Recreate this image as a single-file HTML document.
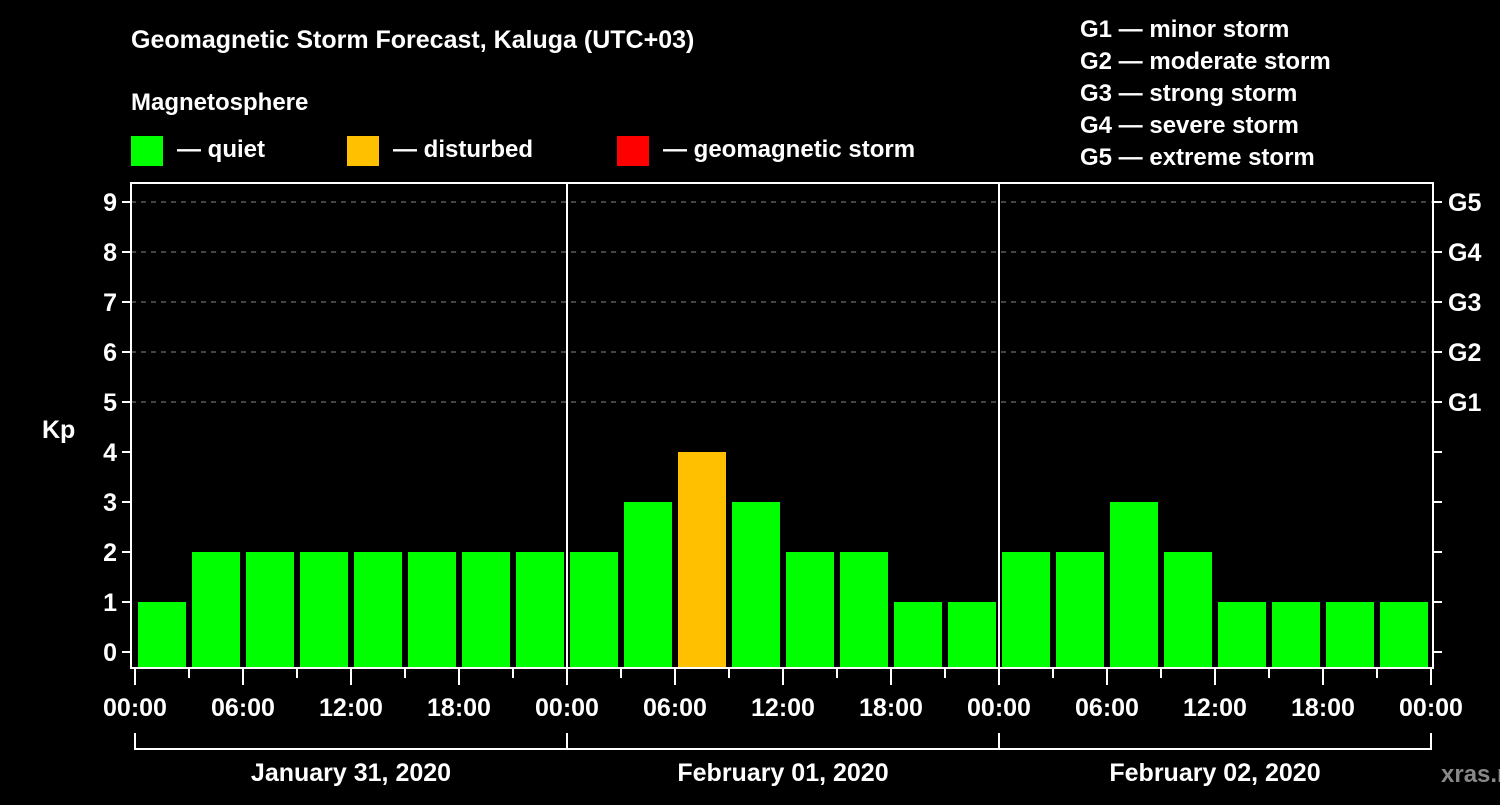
<!DOCTYPE html>
<html><head><meta charset="utf-8"><style>
body{margin:0;background:#000;width:1500px;height:800px;overflow:hidden}
svg text{font-family:"Liberation Sans",sans-serif;font-weight:bold;fill:#fff}
</style></head><body>
<svg id="c" width="1500" height="800" xmlns="http://www.w3.org/2000/svg">
<text x="131" y="48" font-size="25">Geomagnetic Storm Forecast, Kaluga (UTC+03)</text>
<text x="131" y="110" font-size="24">Magnetosphere</text>
<g><rect x="131" y="136" width="32" height="30" fill="#00ff00"/><text x="177" y="157" font-size="24">— quiet</text></g>
<g><rect x="347" y="136" width="32" height="30" fill="#ffc000"/><text x="393" y="157" font-size="24">— disturbed</text></g>
<g><rect x="617" y="136" width="32" height="30" fill="#ff0000"/><text x="663" y="157" font-size="24">— geomagnetic storm</text></g>
<g font-size="24">
<text x="1080" y="37">G1 — minor storm</text>
<text x="1080" y="69">G2 — moderate storm</text>
<text x="1080" y="101">G3 — strong storm</text>
<text x="1080" y="133">G4 — severe storm</text>
<text x="1080" y="165">G5 — extreme storm</text>
</g>
<text x="42" y="438" font-size="25">Kp</text>
<text x="1441" y="782" font-size="24" fill="#888" style="fill:#888">xras.ru</text>
<g id="grid"></g><g id="bars"></g><g id="axes"></g>
</svg>
<script>
const days=["January 31, 2020","February 01, 2020","February 02, 2020"];
const kpValues=[1,2,2,2,2,2,2,2, 2,3,4,3,2,2,1,1, 2,2,3,2,1,1,1,1];
const yTicks=[0,1,2,3,4,5,6,7,8,9];
const gLabels=["G1","G2","G3","G4","G5"];
const gLevels=[5,6,7,8,9];
const xTickLabels=["00:00","06:00","12:00","18:00"];
const NS="http://www.w3.org/2000/svg";
const X0=135,SLOT=54,Y0=652,UNIT=50,L=131,R=1433,T=183,B=668;
const x=i=>X0+i*SLOT;
const y=v=>Y0-v*UNIT;
function mk(tag,attrs,parent,text){const e=document.createElementNS(NS,tag);for(const k in attrs)e.setAttribute(k,attrs[k]);if(text!==undefined)e.textContent=text;document.getElementById(parent).appendChild(e);return e;}
gLevels.forEach(v=>{const e=mk('line',{x1:L,x2:R,y1:y(v),y2:y(v),stroke:'#888','stroke-dasharray':'5,5','stroke-width':1},'grid');

});
kpValues.forEach((v,i)=>{const c=v>=5?'#ff0000':(v>=4?'#ffc000':'#00ff00');
const e=mk('rect',{x:x(i)+3,y:y(v),width:SLOT-6,height:B-1-y(v),fill:c},'bars');

});
// frame
let f=mk('rect',{x:L,y:T,width:R-L,height:B-T,fill:'none',stroke:'#fff','stroke-width':2},'axes');


for(let d=1;d<days.length;d++){const e=mk('line',{x1:x(d*8),x2:x(d*8),y1:T,y2:B,stroke:'#fff','stroke-width':2},'axes');

}
yTicks.forEach(v=>{mk('line',{x1:L-9,x2:L,y1:y(v),y2:y(v),stroke:'#fff','stroke-width':2},'axes');
mk('line',{x1:R,x2:R+9,y1:y(v),y2:y(v),stroke:'#fff','stroke-width':2},'axes');
const t=mk('text',{x:L-14,y:y(v)+9,'font-size':25,'text-anchor':'end'},'axes',String(v));

});
gLabels.forEach((g,i)=>{const t=mk('text',{x:1448,y:y(gLevels[i])+9,'font-size':25},'axes',g);

});
for(let i=0;i<=kpValues.length;i++){const major=i%2===0;
mk('line',{x1:x(i),x2:x(i),y1:B,y2:B+(major?17:10),stroke:'#fff','stroke-width':2},'axes');
if(major){const t=mk('text',{x:x(i),y:716,'font-size':25,'text-anchor':'middle'},'axes',i===kpValues.length?"00:00":xTickLabels[(i/2)%4]);

}}
mk('path',{d:`M${x(0)} 733V749H${x(kpValues.length)}V733`,fill:'none',stroke:'#fff','stroke-width':2},'axes');
days.forEach((d,i)=>{mk('line',{x1:x(i*8),x2:x(i*8),y1:733,y2:749,stroke:'#fff','stroke-width':2},'axes');
const t=mk('text',{x:x(i*8+4),y:781,'font-size':25,'text-anchor':'middle'},'axes',d);

});
</script>
</body></html>
